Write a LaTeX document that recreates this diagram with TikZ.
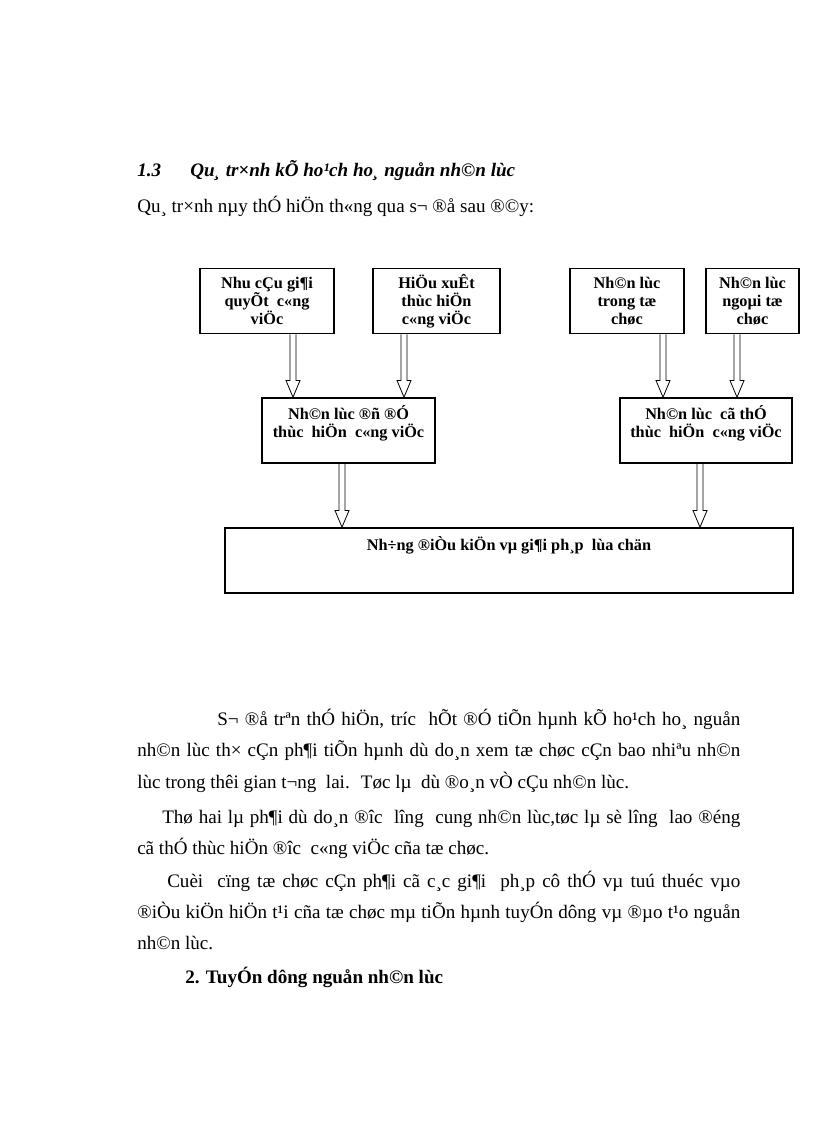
\documentclass[tikz,border=0pt]{standalone}
\usepackage{fontspec}
\setmainfont{Liberation Serif}
\usetikzlibrary{calc,positioning}

\tikzset{
  box/.style={draw, line width=1.2pt, inner sep=0pt, minimum height=48.75pt},
  boxtext/.style={font=\fontsize{12.2}{13.5}\selectfont\bfseries, align=center, inner sep=0pt},
  arrowline/.style={line width=0.6pt},
  bodyline/.style={anchor=base west, inner sep=0pt, font=\fontsize{14.3}{16}\selectfont},
}

% hollow block arrow: x position, upper node, lower node
\newcommand{\blockarrow}[3]{%
  \draw[arrowline] let \p1=(#2.south), \p2=(#3.north), \p3=(#1,0) in
    (\x3-2.25pt,\y1) -- (\x3-2.25pt,\y2+12.5pt) -- (\x3-5.25pt,\y2+12.5pt)
    -- (\x3,\y2) -- (\x3+5.25pt,\y2+12.5pt) -- (\x3+2.25pt,\y2+12.5pt)
    -- (\x3+2.25pt,\y1);}

\begin{document}
\begin{tikzpicture}[x=0.75pt,y=-0.75pt]
\useasboundingbox (0,0) rectangle (816,1123);

% heading
\node[bodyline, font=\fontsize{14.3}{16}\selectfont\bfseries\itshape] (num) at (137,177) {1.3};
\node[bodyline, font=\fontsize{14.3}{16}\selectfont\bfseries\itshape] (title) at (190,177) {Qu¸ tr×nh kÕ ho¹ch ho¸ nguån nh©n lùc};
\node[bodyline] (intro) at (137,213) {Qu¸ tr×nh nµy thÓ hiÖn th«ng qua s¬ ®å sau ®©y:};

% top row
\node[box, minimum width=100.5pt, boxtext] (nhucau) at (267,301) {Nhu cÇu gi¶i\\quyÕt \ c«ng\\viÖc};
\node[box, minimum width=95.25pt, boxtext] (hieuxuat) at (436.5,301) {HiÖu xuÊt\\thùc hiÖn\\c«ng viÖc};
\node[box, minimum width=85.5pt, boxtext] (trong) at (627,301) {Nh©n lùc\\trong tæ\\chøc};
\node[box, minimum width=69.75pt, boxtext] (ngoai) at (752.5,301) {Nh©n lùc\\ngoµi tæ\\chøc};

% middle row
\node[box, minimum width=129.75pt] (dudu) at (348.5,430.5) {};
\node[boxtext, below=6pt of dudu.north] (dudutext) {Nh©n lùc ®ñ ®Ó\\thùc \ hiÖn \ c«ng viÖc};
\node[box, minimum width=129pt] (cothe) at (706,430.5) {};
\node[boxtext, below=6pt of cothe.north] (cothetext) {Nh©n lùc \ cã thÓ\\thùc \ hiÖn \ c«ng viÖc};

% bottom box
\node[box, minimum width=426pt] (giaiphap) at (509,560.5) {};
\node[boxtext, below=6.5pt of giaiphap.north] (giaiphaptext) {Nh÷ng ®iÒu kiÖn vµ gi¶i ph¸p \ lùa chän};

\blockarrow{293}{nhucau}{dudu}
\blockarrow{404}{hieuxuat}{dudu}
\blockarrow{663}{trong}{cothe}
\blockarrow{737}{ngoai}{cothe}
\blockarrow{342}{dudu}{giaiphap}
\blockarrow{700}{cothe}{giaiphap}

% text below
\node[bodyline] (p1) at (217,725) {\makebox[392.25pt][s]{S¬ ®å trªn thÓ hiÖn, tríc \ hÕt ®Ó tiÕn hµnh kÕ ho¹ch ho¸ nguån}};
\node[bodyline] (p2) at (137,756) {\makebox[452.25pt][s]{nh©n lùc th× cÇn ph¶i tiÕn hµnh dù do¸n xem tæ chøc cÇn bao nhiªu nh©n}};
\node[bodyline] (p3) at (137,788) {lùc trong thêi gian t¬ng \ lai. \ Tøc lµ \ dù ®o¸n vÒ cÇu nh©n lùc.};
\node[bodyline] (p4) at (162,823) {\makebox[433.5pt][s]{Thø hai lµ ph¶i dù do¸n ®îc \ lîng \ cung nh©n lùc,tøc lµ sè lîng \ lao ®éng}};
\node[bodyline] (p5) at (137,854) {cã thÓ thùc hiÖn ®îc \ c«ng viÖc cña tæ chøc.};
\node[bodyline] (p6) at (167,887) {\makebox[429.75pt][s]{Cuèi \ cïng tæ chøc cÇn ph¶i cã c¸c gi¶i \ ph¸p cô thÓ vµ tuú thuéc vµo}};
\node[bodyline] (p7) at (137,918) {\makebox[452.25pt][s]{®iÒu kiÖn hiÖn t¹i cña tæ chøc mµ tiÕn hµnh tuyÓn dông vµ ®µo t¹o nguån}};
\node[bodyline] (p8) at (137,949) {nh©n lùc.};
\node[bodyline, font=\fontsize{14.3}{16}\selectfont\bfseries] (sec2) at (185,983) {2. TuyÓn dông nguån nh©n lùc};
\end{tikzpicture}
\end{document}
